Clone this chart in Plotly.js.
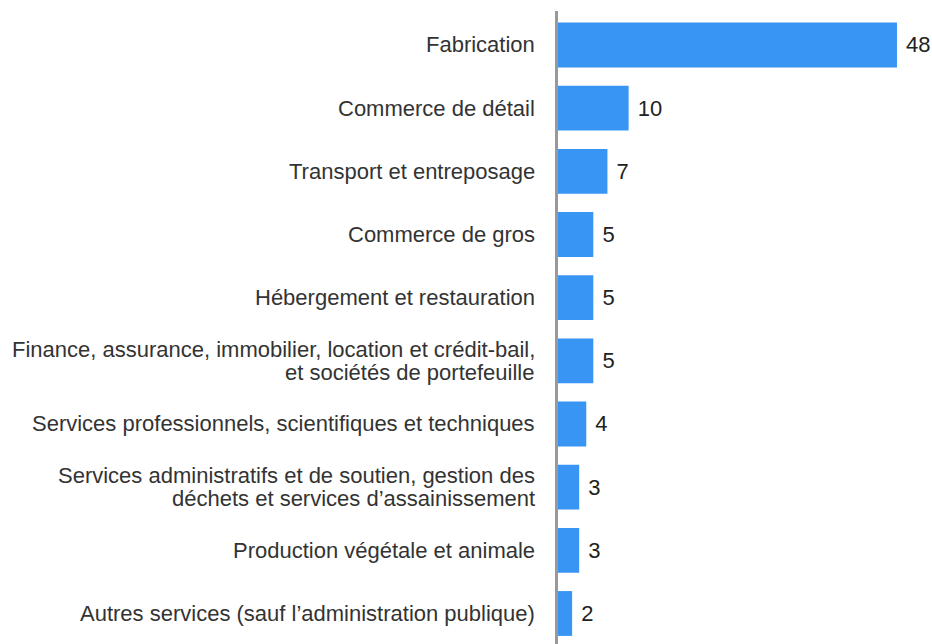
<!DOCTYPE html>
<html><head><meta charset="utf-8">
<script src="https://cdn.plot.ly/plotly-3.0.1.min.js"></script>
<style>html,body{margin:0;padding:0;background:#fff}#chart{width:932px;height:644px}</style>
</head><body><div id="chart"></div>
<script>
const categories = [
  "Fabrication",
  "Commerce de détail",
  "Transport et entreposage",
  "Commerce de gros",
  "Hébergement et restauration",
  "Finance, assurance, immobilier, location et crédit-bail,<br>et sociétés de portefeuille",
  "Services professionnels, scientifiques et techniques",
  "Services administratifs et de soutien, gestion des<br>déchets et services d’assainissement",
  "Production végétale et animale",
  "Autres services (sauf l’administration publique)"
];
const values = [48, 10, 7, 5, 5, 5, 4, 3, 3, 2];

const cats = categories.slice().reverse();
const vals = values.slice().reverse();

const font = "Liberation Sans, Arial, sans-serif";
const lineGap = 22.5;

const annotations = [];
cats.forEach(function (c) {
  const lines = c.split('<br>');
  const n = lines.length;
  lines.forEach(function (t, i) {
    annotations.push({
      xref: 'paper', x: 0, xanchor: 'right', xshift: -21,
      yref: 'y', y: c, yanchor: 'middle', yshift: -(i - (n - 1) / 2) * lineGap,
      text: t, showarrow: false, align: 'right',
      font: {family: font, size: 22, color: '#333'}
    });
  });
});

Plotly.newPlot('chart', [{
  type: 'bar',
  orientation: 'h',
  y: cats,
  x: vals,
  marker: {color: '#3895f4'},
  text: vals.map(v => ' ' + v),
  textposition: 'outside',
  cliponaxis: false,
  textfont: {family: font, size: 22, color: '#222'},
  hoverinfo: 'none'
}], {
  width: 932, height: 644,
  margin: {l: 558, r: 0, t: 11, b: 0},
  paper_bgcolor: '#fff', plot_bgcolor: '#fff',
  bargap: 0.29,
  showlegend: false,
  annotations: annotations,
  xaxis: {range: [0, 52.96], visible: false, fixedrange: true},
  yaxis: {
    type: 'category',
    range: [-0.483, 9.538],
    showline: true, linecolor: '#999', linewidth: 3,
    showgrid: false, zeroline: false,
    ticks: '', showticklabels: false,
    fixedrange: true
  }
}, {displayModeBar: false, staticPlot: true});
</script></body></html>
